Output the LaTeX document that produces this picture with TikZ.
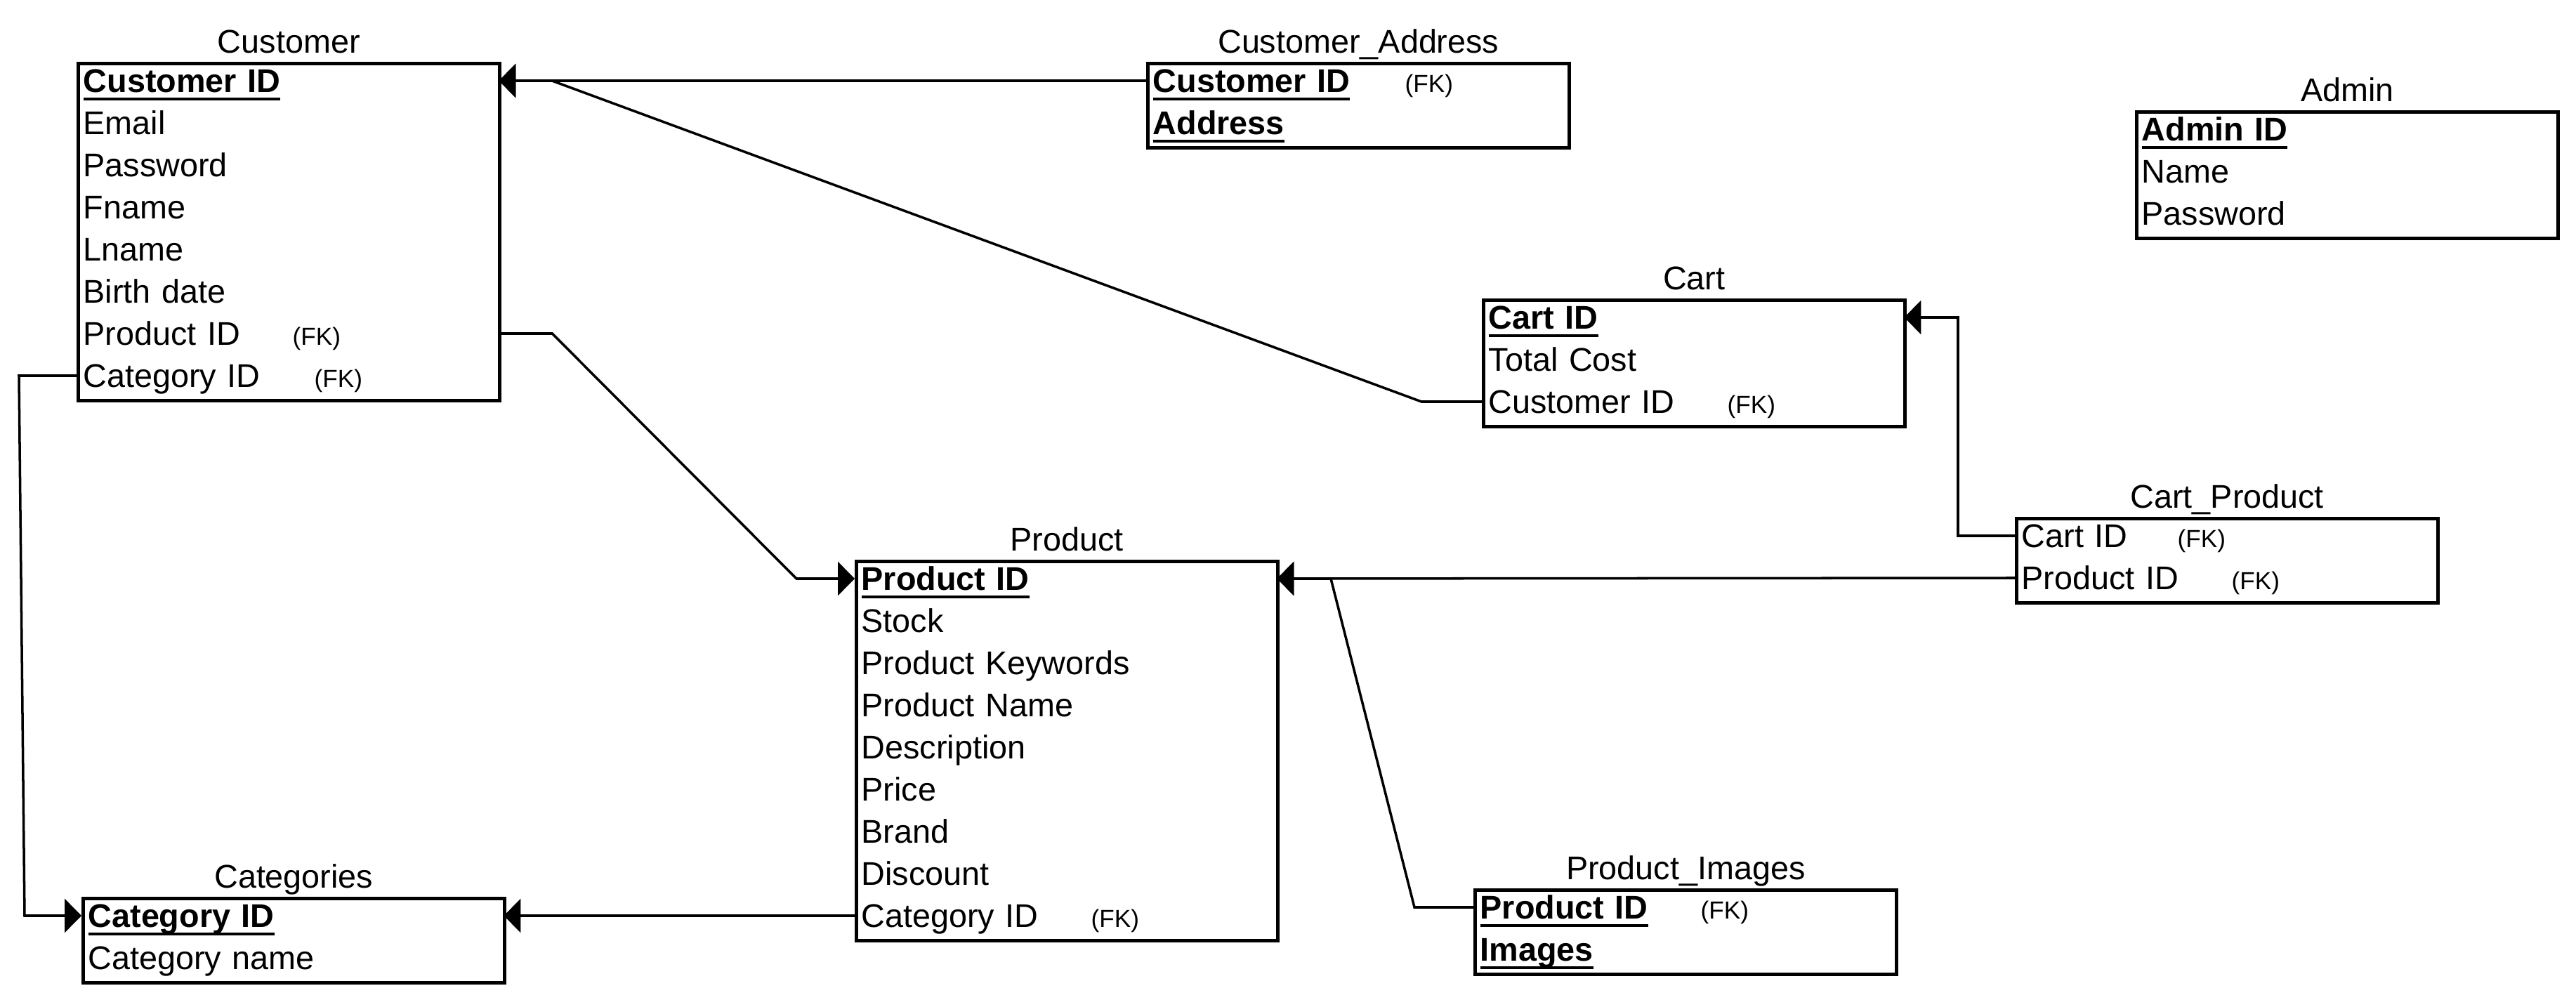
\documentclass[tikz,border=0pt]{standalone}
\usepackage{fontspec}
\setmainfont{Liberation Sans}
\usepackage{tikz}
\usetikzlibrary{arrows.meta}
\newcommand{\rowfont}{\fontsize{13.3pt}{16pt}\selectfont}
\newcommand{\fkfont}{\fontsize{10pt}{12pt}\selectfont}
\newcommand{\pkey}[1]{\setbox0\hbox{\textbf{#1}}\rlap{\rule[-3.2pt]{\wd0}{1pt}}\box0}
\tikzset{entity/.style={draw,line width=1.3pt,anchor=north west,minimum width=6cm,inner sep=0pt}}
\tikzset{attr/.style={anchor=west,inner xsep=0.09cm,inner ysep=0pt,text width=5.82cm,align=left,text height=0.33cm,text depth=0pt,font=\rowfont}}
\tikzset{fk/.style={anchor=base west,inner sep=0pt,font=\fkfont}}
\tikzset{entname/.style={anchor=base,inner sep=0pt,font=\rowfont}}
\tikzset{rel/.style={line width=1pt,-{Triangle[length=6.8pt,width=13.6pt]}}}

\begin{document}
\begin{tikzpicture}
	\useasboundingbox (0,0) rectangle (36.68,-14.24);
	%% entities
	\node[entity,minimum height=4.8cm] (cust) at (1.09,-0.88) {};
	\foreach \txt [count=\i] in {{\pkey{Customer ID}},Email,Password,Fname,Lname,Birth date,Product ID,Category ID}
		\node[attr] (cust-\i) at ([shift={(0,{-0.27-0.6*(\i-1)})}]cust.north west) {\txt};
	\node[entname] (cust-t) at ([yshift=0.12cm]cust.north) {Customer};

	\node[entity,minimum height=1.2cm] (addr) at (16.32,-0.88) {};
	\foreach \txt [count=\i] in {{\pkey{Customer ID}},{\pkey{Address}}}
		\node[attr] (addr-\i) at ([shift={(0,{-0.27-0.6*(\i-1)})}]addr.north west) {\txt};
	\node[entname] (addr-t) at ([yshift=0.12cm]addr.north) {Customer\_Address};

	\node[entity,minimum height=1.8cm] (admin) at (30.40,-1.57) {};
	\foreach \txt [count=\i] in {{\pkey{Admin ID}},Name,Password}
		\node[attr] (admin-\i) at ([shift={(0,{-0.27-0.6*(\i-1)})}]admin.north west) {\txt};
	\node[entname] (admin-t) at ([yshift=0.12cm]admin.north) {Admin};

	\node[entity,minimum height=1.8cm] (cart) at (21.10,-4.25) {};
	\foreach \txt [count=\i] in {{\pkey{Cart ID}},Total Cost,Customer ID}
		\node[attr] (cart-\i) at ([shift={(0,{-0.27-0.6*(\i-1)})}]cart.north west) {\txt};
	\node[entname] (cart-t) at ([yshift=0.12cm]cart.north) {Cart};

	\node[entity,minimum height=1.2cm] (cp) at (28.69,-7.36) {};
	\foreach \txt [count=\i] in {Cart ID,Product ID}
		\node[attr] (cp-\i) at ([shift={(0,{-0.27-0.6*(\i-1)})}]cp.north west) {\txt};
	\node[entname] (cp-t) at ([yshift=0.12cm]cp.north) {Cart\_Product};

	\node[entity,minimum height=5.4cm] (prod) at (12.17,-7.97) {};
	\foreach \txt [count=\i] in {{\pkey{Product ID}},Stock,Product Keywords,Product Name,Description,Price,Brand,Discount,Category ID}
		\node[attr] (prod-\i) at ([shift={(0,{-0.27-0.6*(\i-1)})}]prod.north west) {\txt};
	\node[entname] (prod-t) at ([yshift=0.12cm]prod.north) {Product};

	\node[entity,minimum height=1.2cm] (pimg) at (20.98,-12.65) {};
	\foreach \txt [count=\i] in {{\pkey{Product ID}},{\pkey{Images}}}
		\node[attr] (pimg-\i) at ([shift={(0,{-0.27-0.6*(\i-1)})}]pimg.north west) {\txt};
	\node[entname] (pimg-t) at ([yshift=0.12cm]pimg.north) {Product\_Images};

	\node[entity,minimum height=1.2cm] (cat) at (1.16,-12.77) {};
	\foreach \txt [count=\i] in {{\pkey{Category ID}},Category name}
		\node[attr] (cat-\i) at ([shift={(0,{-0.27-0.6*(\i-1)})}]cat.north west) {\txt};
	\node[entname] (cat-t) at ([yshift=0.12cm]cat.north) {Categories};

	%% foreign keys
	\node[fk] (fk1) at ([xshift=3.07cm]cust-7.base west) {(FK)};
	\node[fk] (fk2) at ([xshift=3.38cm]cust-8.base west) {(FK)};
	\node[fk] (fk3) at ([xshift=3.68cm]addr-1.base west) {(FK)};
	\node[fk] (fk4) at ([xshift=3.49cm]cart-3.base west) {(FK)};
	\node[fk] (fk5) at ([xshift=2.31cm]cp-1.base west) {(FK)};
	\node[fk] (fk6) at ([xshift=3.08cm]cp-2.base west) {(FK)};
	\node[fk] (fk7) at ([xshift=3.36cm]prod-9.base west) {(FK)};
	\node[fk] (fk8) at ([xshift=3.23cm]pimg-1.base west) {(FK)};

	%% relations
	\coordinate (k1) at (7.86,-1.15);
	\coordinate (k2) at (11.34,-8.24);
	\coordinate (k3) at (0.35,-13.04);
	\coordinate (k4) at (18.95,-8.24);
	\draw[rel] (addr-1.west) -- (cust-1.east);
	\draw[rel] (cart-3.west) -- ++(-0.86,0) -- (k1) -- (cust-1.east);
	\draw[rel] (cust-7.east) -- ++(0.76,0) -- (k2) -- (prod-1.west);
	\draw[rel] (cust-8.west) -- ++(-0.82,0) -- (k3) -- (cat-1.west);
	\draw[rel] (prod-9.west) -- (cat-1.east);
	\draw[rel] (cp-2.west) -- (prod-1.east);
	\draw[rel] (pimg-1.west) -- ++(-0.84,0) -- (k4) -- (prod-1.east);
	\draw[rel] (cp-1.west) -- ++(-0.81,0) |- (cart-1.east);

\end{tikzpicture}
\end{document}
